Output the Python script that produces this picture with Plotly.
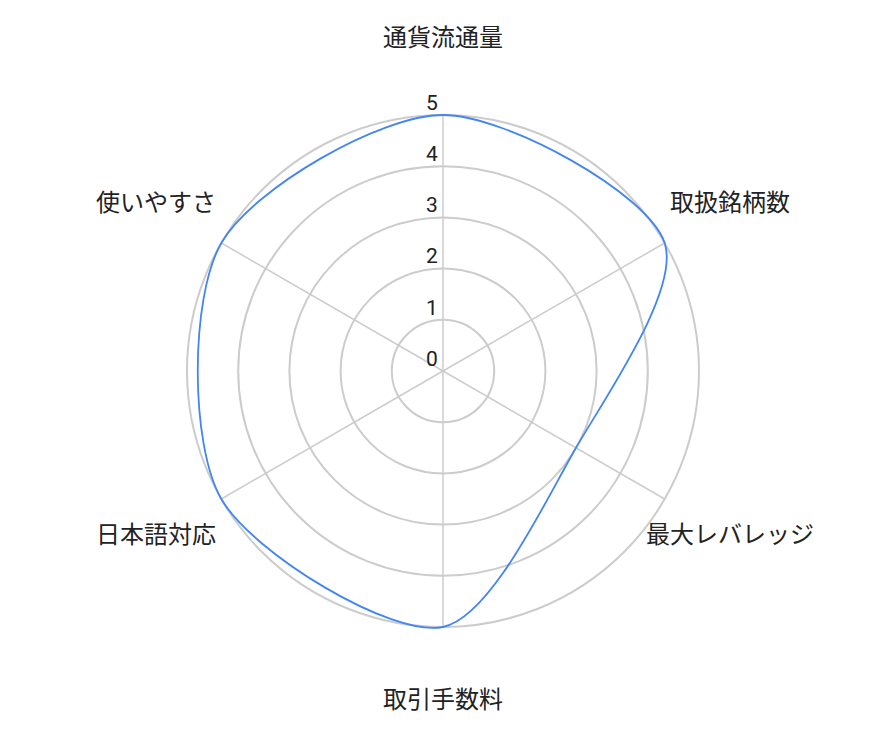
import plotly.graph_objects as go

categories = ["通貨流通量", "取扱銘柄数", "最大レバレッジ", "取引手数料", "日本語対応", "使いやすさ"]
values = [5, 5, 3, 5, 5, 5]
radial_ticks = [0, 1, 2, 3, 4, 5]

R_MAX = 5
R_VIEW = 6.6
LABEL_R = R_MAX * 330 / 255
RADIUS_PX = 256 * R_VIEW / R_MAX
CX, CY = 443 - 8, 371 - 8

fig = go.Figure()

# spokes
spoke_r, spoke_t = [], []
for c in categories:
    spoke_r += [0, R_MAX, None]
    spoke_t += [c, c, c]
fig.add_trace(go.Scatterpolar(
    r=spoke_r, theta=spoke_t, mode="lines",
    line=dict(color="#cccccc", width=1.5),
    hoverinfo="skip", showlegend=False,
))

fig.add_trace(go.Scatterpolar(
    r=values + values[:1],
    theta=categories + categories[:1],
    mode="lines",
    line=dict(color="#4285F4", width=1.8, shape="spline", smoothing=0.85),
    fill="toself",
    fillcolor="rgba(0,0,0,0)",
    hoverinfo="skip",
    showlegend=False,
))

# category labels
fig.add_trace(go.Scatterpolar(
    r=[LABEL_R] * len(categories),
    theta=categories,
    mode="text",
    text=categories,
    textposition="middle center",
    textfont=dict(size=24, color="#222"),
    cliponaxis=False,
    hoverinfo="skip",
    showlegend=False,
))

# radial tick labels
fig.add_trace(go.Scatterpolar(
    r=radial_ticks,
    theta=[categories[0]] * len(radial_ticks),
    mode="text",
    text=[str(t) + "\u00a0" for t in radial_ticks],
    textposition="top left",
    textfont=dict(size=21, color="#222"),
    cliponaxis=False,
    hoverinfo="skip",
    showlegend=False,
))

fig.update_layout(
    width=886, height=742,
    margin=dict(l=0, r=0, t=0, b=0),
    paper_bgcolor="white",
    font=dict(family="Roboto, Noto Sans CJK JP, sans-serif", color="#222"),
    polar=dict(
        domain=dict(x=[(CX - RADIUS_PX) / 886, (CX + RADIUS_PX) / 886],
                    y=[(742 - CY - RADIUS_PX) / 742, (742 - CY + RADIUS_PX) / 742]),
        bgcolor="rgba(0,0,0,0)",
        radialaxis=dict(
            range=[0, R_VIEW], tickvals=radial_ticks[1:], showticklabels=False,
            ticks="", showline=False, gridcolor="#cccccc", gridwidth=1.5,
            angle=90,
        ),
        angularaxis=dict(
            direction="clockwise", rotation=90, showticklabels=False, ticks="",
            showgrid=False, showline=False,
        ),
    ),
)

fig.write_html("out.html")
